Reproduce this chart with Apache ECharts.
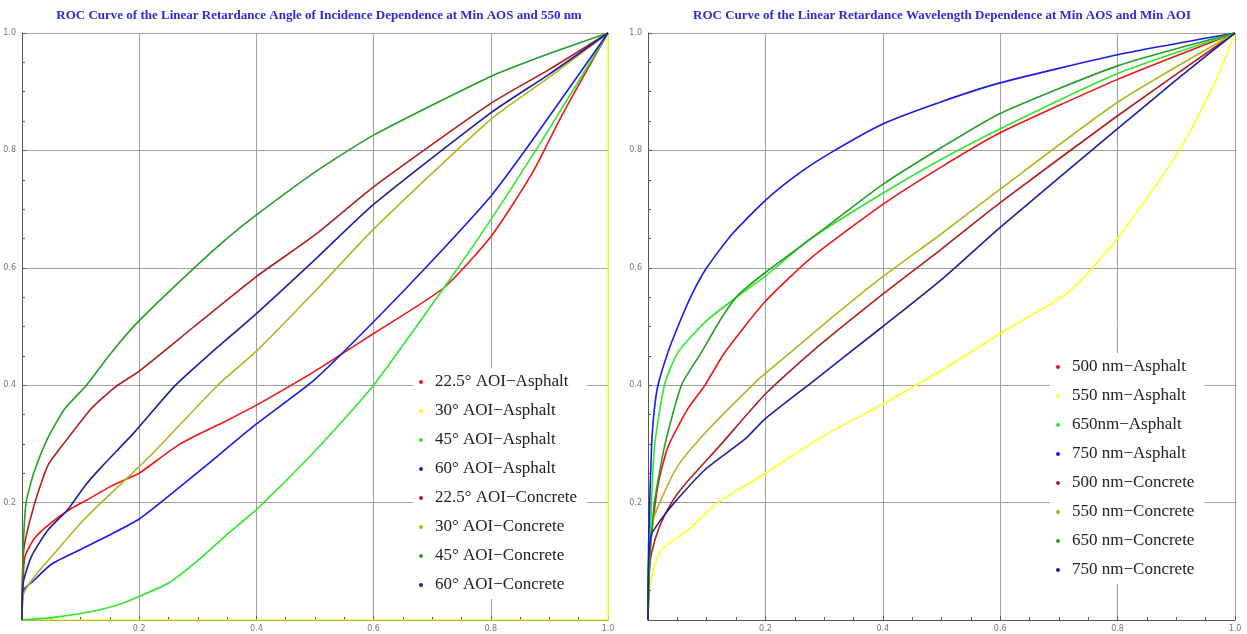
<!DOCTYPE html>
<html>
<head>
<meta charset="utf-8">
<script src="https://cdn.jsdelivr.net/npm/echarts@6/dist/echarts.min.js"></script>
<style>
html,body{margin:0;padding:0;background:#fff;}
#chart{width:1247px;height:634px;}
</style>
</head>
<body>
<div id="chart"></div>
<script>
// ---- Titles ----
const titleLeft = 'ROC Curve of the Linear Retardance Angle of Incidence Dependence at Min AOS and 550 nm';
const titleRight = 'ROC Curve of the Linear Retardance Wavelength Dependence at Min AOS and Min AOI';

// ---- Tick values ----
const tickInterval = 0.2;

// ---- Left chart: angle of incidence ([FPR, TPR] pairs) ----
const namesLeft = ['22.5° AOI−Asphalt','30° AOI−Asphalt','45° AOI−Asphalt','60° AOI−Asphalt',
                   '22.5° AOI−Concrete','30° AOI−Concrete','45° AOI−Concrete','60° AOI−Concrete'];
const aoi225Asphalt = [[0,0],[0.002,0.07],[0.005,0.108],[0.022,0.14],[0.05,0.166],[0.084,0.19],[0.112,0.205],[0.152,0.228],[0.183,0.242],[0.2,0.25],[0.27,0.3],[0.35,0.34],[0.4,0.366],[0.5,0.424],[0.6,0.488],[0.72,0.566],[0.8,0.653],[0.87,0.76],[0.92,0.857],[0.966,0.94],[1,1]];
const aoi30Asphalt = [[0,0],[1,0],[1,1]];
const aoi45Asphalt = [[0,0],[0.05,0.004],[0.1,0.011],[0.158,0.024],[0.2,0.04],[0.25,0.063],[0.3,0.101],[0.35,0.146],[0.4,0.188],[0.5,0.288],[0.6,0.4],[0.72,0.566],[0.8,0.682],[0.9,0.837],[1,1]];
const aoi60Asphalt = [[0,0],[0.002,0.05],[0.022,0.069],[0.05,0.095],[0.1,0.12],[0.152,0.146],[0.2,0.172],[0.249,0.21],[0.314,0.263],[0.4,0.334],[0.5,0.41],[0.6,0.508],[0.7,0.612],[0.8,0.722],[0.87,0.816],[1,1]];
const aoi225Concrete = [[0,0],[0.003,0.12],[0.022,0.2],[0.044,0.263],[0.067,0.295],[0.118,0.36],[0.158,0.396],[0.2,0.424],[0.294,0.5],[0.4,0.585],[0.5,0.656],[0.6,0.738],[0.8,0.88],[0.9,0.938],[1,1]];
const aoi30Concrete = [[0,0],[0.002,0.043],[0.022,0.075],[0.061,0.12],[0.101,0.166],[0.135,0.2],[0.183,0.245],[0.229,0.29],[0.334,0.4],[0.4,0.458],[0.5,0.56],[0.6,0.666],[0.8,0.853],[0.9,0.925],[1,1]];
const aoi45Concrete = [[0,0],[0.002,0.12],[0.007,0.2],[0.02,0.25],[0.044,0.31],[0.073,0.36],[0.11,0.4],[0.152,0.455],[0.2,0.51],[0.294,0.6],[0.35,0.65],[0.4,0.69],[0.5,0.763],[0.6,0.826],[0.8,0.926],[0.9,0.965],[1,1]];
const aoi60Concrete = [[0,0],[0.002,0.063],[0.016,0.108],[0.044,0.153],[0.078,0.188],[0.107,0.228],[0.135,0.26],[0.192,0.32],[0.26,0.398],[0.317,0.45],[0.4,0.522],[0.5,0.614],[0.6,0.708],[0.8,0.864],[0.9,0.93],[1,1]];

// ---- Right chart: wavelength ----
const namesRight = ['500 nm−Asphalt','550 nm−Asphalt','650nm−Asphalt','750 nm−Asphalt',
                    '500 nm−Concrete','550 nm−Concrete','650 nm−Concrete','750 nm−Concrete'];
const wl500Asphalt = [[0,0],[0.002,0.1],[0.006,0.146],[0.017,0.23],[0.034,0.295],[0.068,0.36],[0.097,0.4],[0.131,0.456],[0.2,0.543],[0.278,0.617],[0.4,0.708],[0.5,0.772],[0.6,0.83],[0.8,0.921],[1,1]];
const wl550Asphalt = [[0,0],[0.002,0.05],[0.006,0.075],[0.023,0.12],[0.068,0.153],[0.116,0.198],[0.2,0.25],[0.3,0.314],[0.4,0.368],[0.5,0.425],[0.6,0.488],[0.718,0.56],[0.8,0.65],[0.905,0.8],[0.968,0.92],[1,1]];
const wl650Asphalt = [[0,0],[0.003,0.12],[0.006,0.2],[0.011,0.295],[0.028,0.4],[0.051,0.456],[0.1,0.51],[0.159,0.556],[0.2,0.586],[0.278,0.65],[0.4,0.727],[0.5,0.785],[0.6,0.837],[0.8,0.931],[1,1]];
const wl750Asphalt = [[0,0],[0.001,0.127],[0.006,0.295],[0.011,0.36],[0.017,0.4],[0.034,0.456],[0.051,0.5],[0.075,0.555],[0.1,0.6],[0.142,0.656],[0.2,0.715],[0.256,0.76],[0.313,0.797],[0.4,0.845],[0.5,0.883],[0.6,0.915],[0.8,0.963],[1,1]];
const wl500Concrete = [[0,0],[0.002,0.08],[0.006,0.114],[0.02,0.16],[0.04,0.2],[0.062,0.23],[0.125,0.3],[0.2,0.385],[0.278,0.456],[0.4,0.555],[0.5,0.632],[0.6,0.711],[0.8,0.859],[1,1]];
const wl550Concrete = [[0,0],[0.002,0.1],[0.008,0.166],[0.02,0.2],[0.051,0.263],[0.108,0.33],[0.188,0.41],[0.2,0.42],[0.313,0.515],[0.4,0.585],[0.5,0.658],[0.6,0.734],[0.8,0.882],[1,1]];
const wl650Concrete = [[0,0],[0.003,0.1],[0.011,0.2],[0.028,0.295],[0.057,0.4],[0.091,0.456],[0.125,0.514],[0.153,0.553],[0.2,0.592],[0.278,0.65],[0.4,0.742],[0.5,0.805],[0.6,0.863],[0.8,0.944],[1,1]];
const wl750Concrete = [[0,0],[0.001,0.1],[0.006,0.146],[0.023,0.172],[0.045,0.2],[0.097,0.256],[0.165,0.308],[0.2,0.343],[0.278,0.404],[0.4,0.5],[0.5,0.58],[0.6,0.669],[0.8,0.837],[0.9,0.92],[1,1]];

const dataLeft = [aoi225Asphalt, aoi30Asphalt, aoi45Asphalt, aoi60Asphalt, aoi225Concrete, aoi30Concrete, aoi45Concrete, aoi60Concrete];
const dataRight = [wl500Asphalt, wl550Asphalt, wl650Asphalt, wl750Asphalt, wl500Concrete, wl550Concrete, wl650Concrete, wl750Concrete];

const colors = ['#f01414','#ffff1e','#2ee82e','#1a1ae6','#b21e1e','#b4b41e','#24a024','#1e1e9e'];

function makeAxis(idx, isX) {
  return {
    type: 'value', gridIndex: idx, min: 0, max: 1, interval: tickInterval,
    axisLine: { show: true, onZero: false, lineStyle: { color: '#555', width: 1 } },
    axisTick: { show: true, inside: true, length: 4, lineStyle: { color: '#555' } },
    minorTick: { show: true, splitNumber: 4, length: 3, lineStyle: { color: '#555' } },
    splitLine: { show: true, lineStyle: { color: '#a0a0a0', width: 1 } },
    axisLabel: {
      fontSize: 8, color: '#777', margin: isX ? 5 : 6, fontFamily: 'DejaVu Sans',
      formatter: v => (v === 0 ? '' : v.toFixed(1))
    }
  };
}

const series = [];
dataLeft.forEach((d, i) => series.push({
  name: namesLeft[i], type: 'line', xAxisIndex: 0, yAxisIndex: 0, data: d,
  showSymbol: false, symbol: 'circle', smooth: 0.2, color: colors[i],
  lineStyle: { width: 1.6, color: colors[i] }
}));
dataRight.forEach((d, i) => series.push({
  name: namesRight[i], type: 'line', xAxisIndex: 1, yAxisIndex: 1, data: d,
  showSymbol: false, symbol: 'circle', smooth: 0.2, color: colors[i],
  lineStyle: { width: 1.6, color: colors[i] }
}));

const legendCommon = {
  orient: 'vertical', icon: 'circle', itemWidth: 4, itemHeight: 4, itemGap: 9,
  backgroundColor: '#fff', padding: [4, 10, 4, 6],
  textStyle: { fontFamily: 'Liberation Serif', fontSize: 17, color: '#222', lineHeight: 20, padding: [0, 0, 0, 7] }
};

const chart = echarts.init(document.getElementById('chart'), null, { renderer: 'canvas' });
chart.setOption({
  animation: false,
  backgroundColor: '#fff',
  title: [
    { text: titleLeft, left: 314, top: 4, textAlign: 'center',
      textStyle: { fontFamily: 'Liberation Serif', fontWeight: 'bold', fontSize: 13, color: '#2b2bd2' } },
    { text: titleRight, left: 937, top: 4, textAlign: 'center',
      textStyle: { fontFamily: 'Liberation Serif', fontWeight: 'bold', fontSize: 13, color: '#2b2bd2' } }
  ],
  grid: [
    { left: 22, top: 33, width: 586, height: 587 },
    { left: 648, top: 33, width: 587, height: 587 }
  ],
  xAxis: [makeAxis(0, true), makeAxis(1, true)],
  yAxis: [makeAxis(0, false), makeAxis(1, false)],
  legend: [
    Object.assign({}, legendCommon, { data: namesLeft, left: 413, top: 368 }),
    Object.assign({}, legendCommon, { data: namesRight, left: 1050, top: 353 })
  ],
  series: series
});
</script>
</body>
</html>
